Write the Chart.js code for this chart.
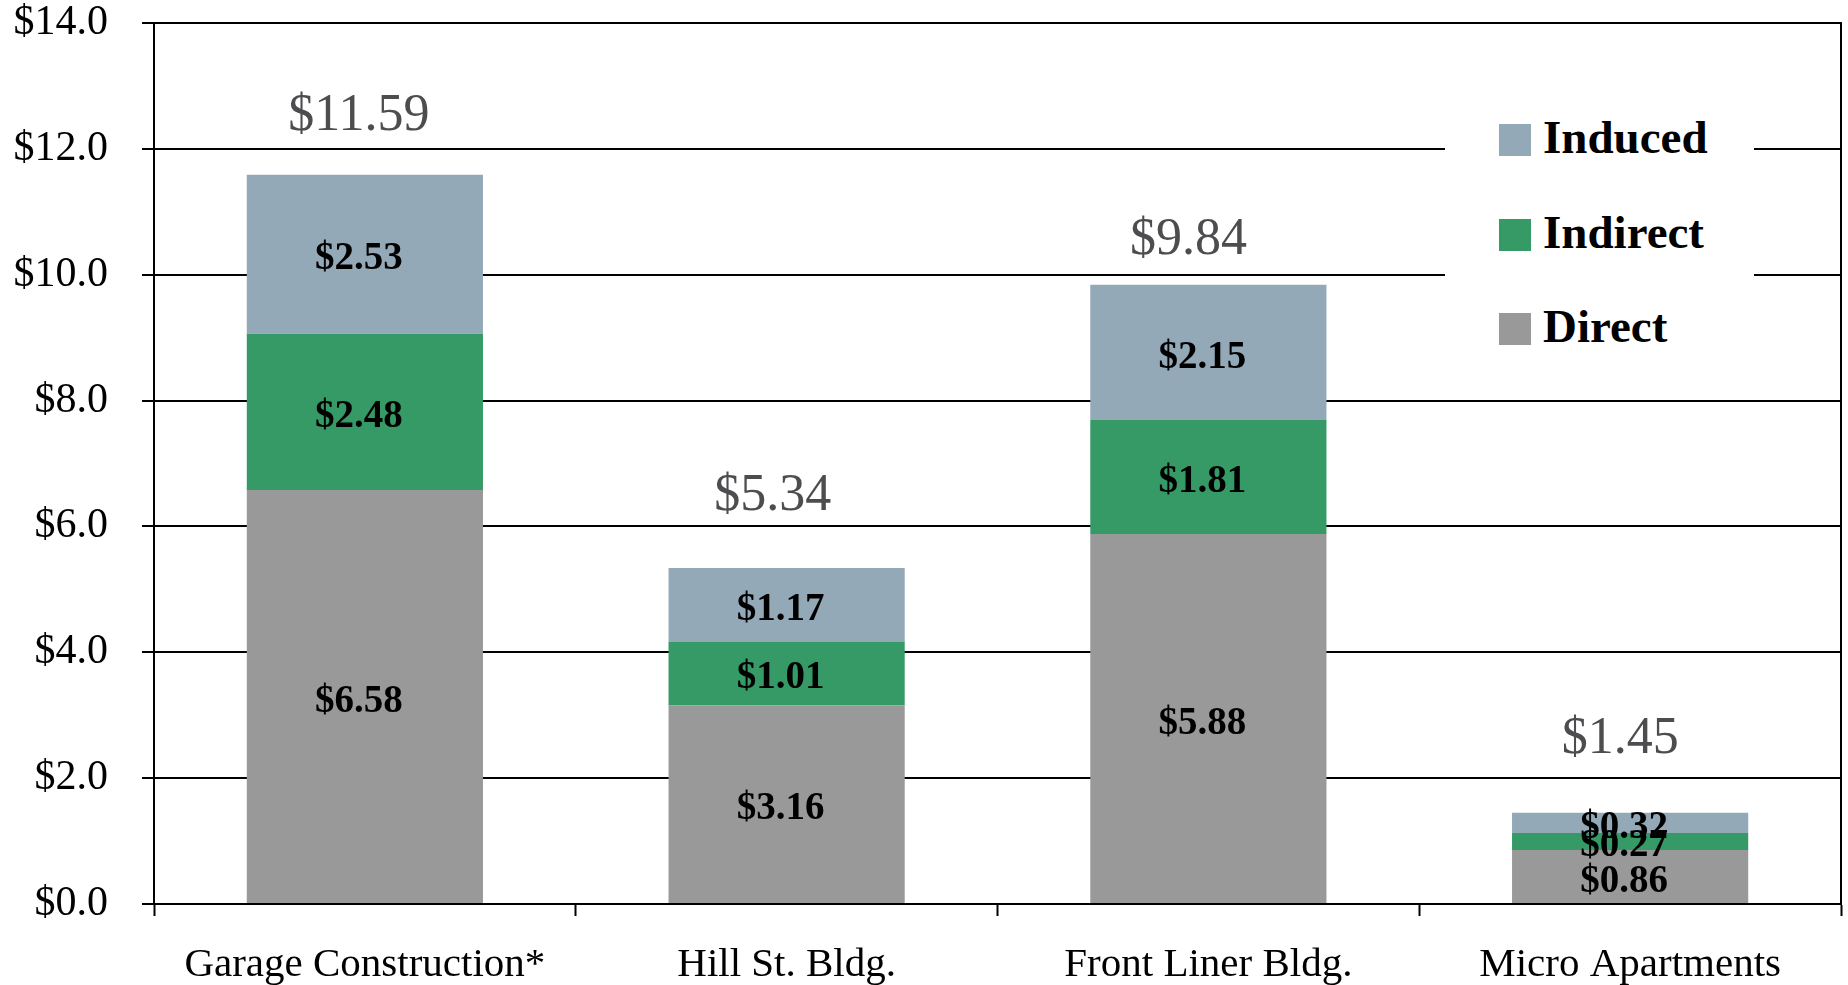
<!DOCTYPE html>
<html>
<head>
<meta charset="utf-8">
<title>Economic Impact by Project</title>
<script src="https://cdn.jsdelivr.net/npm/chart.js@4.4.1/dist/chart.umd.min.js"></script>
<style>
  html, body { margin: 0; padding: 0; background: #fff; }
  #wrap { position: relative; width: 1848px; height: 985px; }
  #legend {
    position: absolute; left: 1445px; top: 100px; width: 309px; height: 262px;
    background: #fff; font-family: 'Liberation Serif', 'Times New Roman', serif;
    font-weight: bold; font-size: 47px; color: #000;
  }
  .item { position: absolute; left: 54px; height: 32px; }
  .swatch { position: absolute; left: 0; top: 0; width: 32px; height: 32px; }
  .name { position: absolute; left: 44px; top: -3px; line-height: 32px; white-space: nowrap; }
</style>
</head>
<body>
<div id="wrap">
  <canvas id="impactChart" width="1848" height="985"></canvas>
  <div id="legend"></div>
</div>
<script>
const projects = ['Garage Construction*', 'Hill St. Bldg.', 'Front Liner Bldg.', 'Micro Apartments'];
const direct   = [6.58, 3.16, 5.88, 0.86];
const indirect = [2.48, 1.01, 1.81, 0.27];
const induced  = [2.53, 1.17, 2.15, 0.32];
const totals   = [11.59, 5.34, 9.84, 1.45];
const yTicks   = [0, 2, 4, 6, 8, 10, 12, 14];

const serif = "'Liberation Serif', 'Times New Roman', serif";

// values printed in the middle of each stacked segment
const segmentLabels = {
  id: 'segmentLabels',
  afterDatasetsDraw(chart) {
    const ctx = chart.ctx;
    ctx.save();
    ctx.font = 'bold 39px ' + serif;
    ctx.fillStyle = '#000';
    ctx.textAlign = 'center';
    ctx.textBaseline = 'middle';
    chart.data.datasets.forEach((ds, i) => {
      chart.getDatasetMeta(i).data.forEach((bar, j) => {
        const y = (bar.y + bar.base) / 2;
        ctx.fillText('$' + ds.data[j].toFixed(2), bar.x - 6, y + 5);
      });
    });
    ctx.restore();
  }
};

// stack totals above each column
const totalLabels = {
  id: 'totalLabels',
  afterDatasetsDraw(chart, args, opts) {
    const ctx = chart.ctx;
    const y = chart.scales.y;
    const bars = chart.getDatasetMeta(0).data;
    ctx.save();
    ctx.font = '52px ' + serif;
    ctx.fillStyle = '#4d4d50';
    ctx.textAlign = 'center';
    ctx.textBaseline = 'alphabetic';
    totals.forEach((t, j) => {
      ctx.fillText('$' + t.toFixed(2), bars[j].x + opts.shift[j], y.getPixelForValue(t) - opts.gap[j]);
    });
    ctx.restore();
  }
};

const chart = new Chart(document.getElementById('impactChart'), {
  type: 'bar',
  data: {
    labels: projects,
    datasets: [
      { label: 'Direct', data: direct, backgroundColor: 'rgb(153,153,153)' },
      { label: 'Indirect', data: indirect, backgroundColor: 'rgb(53,154,102)' },
      { label: 'Induced', data: induced, backgroundColor: 'rgb(147,169,184)' }
    ]
  },
  options: {
    responsive: false,
    animation: false,
    events: [],
    layout: { padding: { top: 23, right: 7, left: 0, bottom: 0 } },
    datasets: {
      bar: { categoryPercentage: 1, barPercentage: 0.56, borderWidth: 0 }
    },
    plugins: {
      legend: { display: false },
      tooltip: { enabled: false },
      totalLabels: { gap: [45, 58, 31, 60], shift: [-6, -14, -20, -10] }
    },
    scales: {
      x: {
        stacked: true,
        grid: { drawOnChartArea: false, tickLength: 12, tickColor: '#000', tickWidth: 2, offset: true },
        border: { color: '#000', width: 2 },
        ticks: { color: '#000', padding: 29, font: { family: serif, size: 41, lineHeight: 1 } },
        afterFit(scale) {
          scale.height = 81;
          scale.paddingLeft = 0;
          scale.paddingRight = 0;
        }
      },
      y: {
        stacked: true,
        min: 0,
        max: 14,
        afterBuildTicks(scale) { scale.ticks = yTicks.map(v => ({ value: v })); },
        grid: { color: '#000', lineWidth: 2, tickLength: 12 },
        border: { color: '#000', width: 2 },
        ticks: {
          color: '#000', padding: 34,
          font: { family: serif, size: 42, lineHeight: 1 },
          callback: v => '$' + v.toFixed(1)
        },
        afterFit(scale) {
          scale.width = 154;
          scale.paddingTop = 0;
          scale.paddingBottom = 0;
        }
      },
      edge: {
        position: 'right',
        min: 0,
        max: 14,
        grid: { display: false },
        ticks: { display: false },
        border: { color: '#000', width: 2 },
        afterFit(scale) {
          scale.width = 0;
          scale.paddingTop = 0;
          scale.paddingBottom = 0;
        }
      }
    }
  },
  plugins: [segmentLabels, totalLabels]
});

// legend listed top-down in reverse stacking order
const legend = document.getElementById('legend');
const rowTops = [24, 119, 213];
chart.data.datasets.slice().reverse().forEach((ds, i) => {
  const item = document.createElement('div');
  item.className = 'item';
  item.style.top = rowTops[i] + 'px';
  item.innerHTML = '<div class="swatch" style="background:' + ds.backgroundColor + '"></div>' +
    '<div class="name">' + ds.label + '</div>';
  legend.appendChild(item);
});
</script>
</body>
</html>
